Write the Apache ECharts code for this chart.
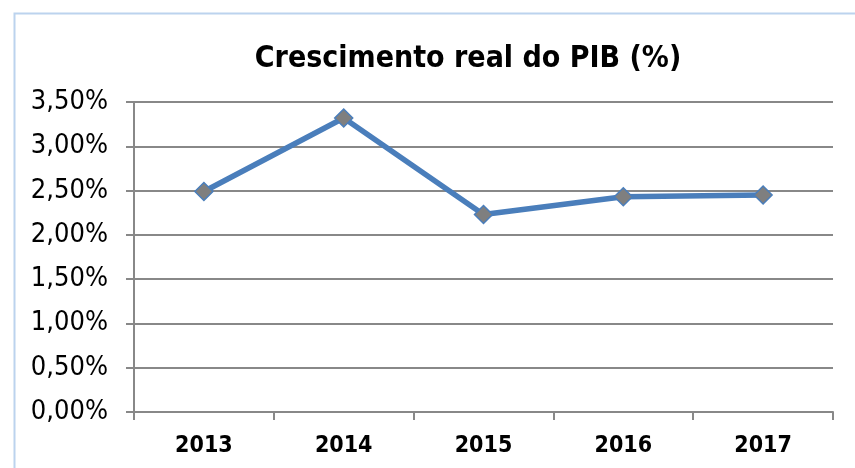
<!DOCTYPE html>
<html>
<head>
<meta charset="utf-8">
<script src="https://cdn.jsdelivr.net/npm/echarts@6/dist/echarts.min.js"></script>
<style>
  html, body { margin: 0; padding: 0; background: #fff; }
  #chart { width: 855px; height: 468px; }
</style>
</head>
<body>
<div id="chart"></div>
<script>
  // dados do gráfico
  var anos = ['2013', '2014', '2015', '2016', '2017']
  var crescimento = [2.49, 3.32, 2.23, 2.43, 2.45]
  var eixoY = { min: 0, max: 3.5, interval: 0.5 }

  var chart = echarts.init(document.getElementById('chart'))

  var option = {
    backgroundColor: '#ffffff',
    animation: false,
    title: {
      text: 'Crescimento real do PIB (%)',
      left: 463,
      textAlign: 'center',
      top: 39,
      textStyle: {
        fontFamily: 'DejaVu Sans Condensed',
        fontWeight: 'bold',
        fontSize: 30,
        color: '#000'
      }
    },
    // moldura azul clara
    graphic: [
      {
        type: 'rect',
        shape: { x: 14.5, y: 13.5, width: 900, height: 600 },
        style: { fill: 'none', stroke: '#bcd3ee', lineWidth: 2 },
        silent: true
      }
    ],
    grid: {
      left: 134,
      right: 22,
      top: 102,
      bottom: 56,
      containLabel: false
    },
    xAxis: {
      type: 'category',
      data: anos,
      boundaryGap: true,
      axisLine: { lineStyle: { color: '#888888', width: 2 } },
      axisTick: { show: true, length: 8, lineStyle: { color: '#888888', width: 2 } },
      axisLabel: {
        fontFamily: 'DejaVu Sans Condensed',
        fontWeight: 'bold',
        fontSize: 23,
        color: '#000',
        margin: 23
      },
      splitLine: { show: false }
    },
    yAxis: {
      type: 'value',
      min: eixoY.min,
      max: eixoY.max,
      interval: eixoY.interval,
      axisLine: { show: true, lineStyle: { color: '#888888', width: 2 } },
      axisTick: { show: true, length: 8, lineStyle: { color: '#888888', width: 2 } },
      axisLabel: {
        fontFamily: 'DejaVu Sans Condensed',
        fontSize: 27,
        color: '#000',
        margin: 26,
        formatter: function (v) {
          return v.toFixed(2).replace('.', ',') + '%'
        }
      },
      splitLine: { show: true, lineStyle: { color: '#888888', width: 2 } }
    },
    series: [
      {
        name: 'Crescimento',
        type: 'line',
        data: crescimento,
        symbol: 'diamond',
        symbolSize: 18,
        lineStyle: { color: '#4a7ebb', width: 5.5 },
        itemStyle: { color: '#7f7f7f', borderColor: '#4a7ebb', borderWidth: 1.5 }
      }
    ]
  }

  chart.setOption(option)
</script>
</body>
</html>
